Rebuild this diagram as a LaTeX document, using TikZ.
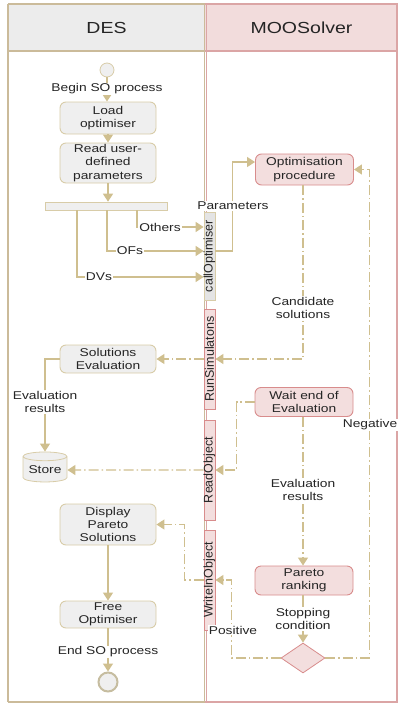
\documentclass[tikz,border=0pt]{standalone}
\usepackage{fontspec}
\setmainfont{Liberation Sans}[FakeStretch=1.22]
\newfontfamily\rotfont{Liberation Sans}
\usetikzlibrary{arrows.meta,shapes.geometric,calc}
\definecolor{conn}{HTML}{CFBF8F}
\definecolor{desfill}{HTML}{EFEFEF}
\definecolor{desborder}{HTML}{D8CCA8}
\definecolor{moofill}{HTML}{F3DEDE}
\definecolor{mooborder}{HTML}{D88C8C}
\definecolor{deshead}{HTML}{ECECEC}
\definecolor{moohead}{HTML}{F2DCDC}
\definecolor{desline}{HTML}{CBBB9A}
\definecolor{mooline}{HTML}{DBA5A5}
\definecolor{txt}{HTML}{252525}
\definecolor{grayfill}{HTML}{E4E4E4}
\begin{document}
\begin{tikzpicture}[x=1pt,y=-1pt,
  font=\fontsize{11.3}{13.3}\selectfont, text=txt,
  desbox/.style={draw=desborder, fill=desfill, rounded corners=6pt, minimum width=96pt, inner sep=1pt, align=center, line width=0.9pt},
  moobox/.style={draw=mooborder, fill=moofill, rounded corners=6pt, minimum width=98pt, inner sep=1pt, align=center, line width=0.9pt},
  flow/.style={draw=conn, line width=1.35pt, -{Triangle[length=8pt,width=10pt]}},
  dflow/.style={flow, dash pattern=on 10pt off 3pt on 1.5pt off 3pt},
  lbl/.style={fill=white, inner sep=1pt, align=center},
  pinkbar/.style={draw=mooborder, fill=moofill, minimum width=11pt, inner sep=0pt, line width=0.8pt},
  graybar/.style={draw=desborder, fill=grayfill, minimum width=11pt, inner sep=0pt, line width=0.8pt},
  bartext/.style={rotate=90, font=\rotfont\fontsize{12.5}{14}\selectfont, inner sep=0pt},
  hdr/.style={font=\fontsize{16}{19}\selectfont}
]
\useasboundingbox (0,0) rectangle (398,704);
% lanes
\fill[deshead] (8,4) rectangle (205,51);
\fill[moohead] (205,4) rectangle (398,51);
\draw[desline, line width=1.2pt] (8,4) -- (8,702);
\draw[desline, line width=1.2pt] (8,4) -- (205,4);
\draw[mooline, line width=1.2pt] (205,4) -- (398,4);
\draw[desline, line width=1.2pt] (8,51) -- (205,51);
\draw[mooline, line width=1.2pt] (205,51) -- (398,51);
\draw[desline, line width=1.2pt] (204.5,4) -- (204.5,702);
\draw[mooline, line width=1pt] (206,4) -- (206,702);
\draw[mooline, line width=1.2pt] (397,4) -- (397,702);
\draw[desline, line width=1.2pt] (8,702) -- (205,702);
\draw[mooline, line width=1.2pt] (205,702) -- (398,702);
\node[hdr] (deshdr) at (106.5,28) {DES};
\node[hdr] (moohdr) at (301.5,28) {MOOSolver};

% nodes
\node[circle, draw=desborder, fill=desfill, line width=0.8pt, minimum size=14pt, inner sep=0pt] (start) at (107,70) {};
\node[desbox, minimum height=32pt] (load) at (108,118) {Load\\optimiser};
\node[desbox, minimum height=40pt] (read) at (108,163) {Read user-\\defined\\parameters};
\node[draw=desborder, fill=desfill, line width=0.6pt, minimum width=122pt, minimum height=8pt, inner sep=0pt] (split) at (106,206) {};
\node[graybar, minimum height=88pt] (callopt) at (209.5,256) {};
\node[bartext] (callopttxt) at (callopt) {callOptimiser};
\node[pinkbar, minimum height=100pt] (rs) at (209.5,359) {};
\node[bartext] (rstxt) at (rs) {RunSimulatons};
\node[pinkbar, minimum height=100pt] (ro) at (209.5,470) {};
\node[bartext] (rotxt) at (ro) {ReadObject};
\node[pinkbar, minimum height=100pt] (wio) at (209.5,580) {};
\node[bartext] (wiotxt) at (wio) {WriteInObject};
\node[moobox, minimum height=31pt] (optp) at (304.5,169.5) {Optimisation\\procedure};
\node[desbox, minimum height=28pt] (sole) at (108,359) {Solutions\\Evaluation};
\node[cylinder, shape border rotate=90, aspect=0.25, draw=desborder, fill=desfill, line width=0.8pt, minimum width=44pt, minimum height=30pt, inner sep=1pt] (store) at (45,470) {Store};
\node[moobox, minimum height=29pt] (wait) at (304,402) {Wait end of\\Evaluation};
\node[moobox, minimum height=29pt] (pareto) at (304,580.5) {Pareto\\ranking};
\node[diamond, aspect=1.47, draw=mooborder, fill=moofill, line width=0.8pt, minimum width=44pt, minimum height=30pt, inner sep=0pt] (dec) at (303,658) {};
\node[desbox, minimum height=41pt] (disp) at (108,524.5) {Display\\Pareto\\Solutions};
\node[desbox, minimum height=27pt] (free) at (108,614.5) {Free\\Optimiser};
\node[circle, draw=desborder!80!gray, fill=desfill, line width=2pt, minimum size=19pt, inner sep=0pt] (endc) at (108,682) {};

% connectors
\draw[flow] (start.south) -- (start.south |- load.north);
\draw[flow] (load) -- (read);
\draw[flow] (read) -- (read |- split.north);
\draw[flow] ([xshift=31pt]split.south) |- ([yshift=29pt]callopt.west);
\draw[flow] ([xshift=1pt]split.south) |- ([yshift=5pt]callopt.west);
\draw[flow] ([xshift=-29pt]split.south) |- ([yshift=-21pt]callopt.west);
\draw[flow] ([yshift=5pt]callopt.east) -- ++(17,0) |- ([yshift=7.5pt]optp.west);
\draw[dflow] ([xshift=-1.5pt]optp.south) |- (rs.east);
\draw[dflow] (rs.west) -- (sole.east);
\draw[flow] (sole.west) -| (store.north);
\draw[dflow] (wait.west) -- ++(-18,0) |- (ro.east);
\draw[dflow] (ro.west) -- (store.east);
\draw[dflow] ([xshift=-1pt]wait.south) -- ([xshift=-1pt]pareto.north);
\draw[flow] ([xshift=-1pt]pareto.south) -- (dec.north);
\draw[dflow] (dec.east) -- ++(44,0) |- (optp.east);
\draw[dflow] (dec.west) -- ++(-49,0) |- (wio.east);
\draw[dflow] (wio.west) -- ++(-19,0) |- (disp.east);
\draw[flow] (disp) -- (free);
\draw[flow] (free) -- (endc);

% labels
\node[lbl] (l1) at (107,89) {Begin SO process};
\node[lbl] (l2) at (160,227) {Others};
\node[lbl] (l3) at (130,251) {OFs};
\node[lbl] (l4) at (99,277) {DVs};
\node[lbl] (l5) at (233,206) {Parameters};
\node[lbl] (l6) at (303,308) {Candidate\\solutions};
\node[lbl] (l7) at (45,402) {Evaluation\\results};
\node[lbl] (l8) at (303,490) {Evaluation\\results};
\node[lbl] (l9) at (303,619) {Stopping\\condition};
\node[lbl] (l10) at (370,425) {Negative};
\node[lbl] (l11) at (233,630) {Positive};
\node[lbl] (l12) at (108,652) {End SO process};
\end{tikzpicture}
\end{document}
